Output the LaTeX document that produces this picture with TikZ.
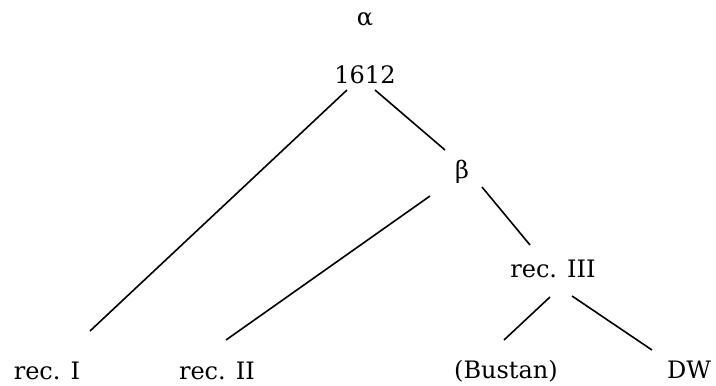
\documentclass[tikz,border=0pt]{standalone}
\usepackage{fontspec}
\setmainfont{DejaVu Serif}
\usetikzlibrary{calc}
\begin{document}
\begin{tikzpicture}[x=1pt,y=-1pt,
  lbl/.style={anchor=base,inner sep=0pt,font=\fontsize{24}{28}\selectfont},
  edge/.style={line width=1.6pt}]
\useasboundingbox (0,0) rectangle (716,386);
\node[lbl] (alpha) at (365,25) {α};
\node[lbl] (n1612) at (365,83) {1612};
\node[lbl] (beta) at (462,178) {β};
\node[lbl] (rec3) at (553,277) {rec. III};
\node[lbl] (rec1) at (47,379) {rec. I};
\node[lbl] (rec2) at (217,379) {rec. II};
\node[lbl] (bustan) at (506,378) {(Bustan)};
\node[lbl] (dw) at (689,378) {DW};
\draw[edge] ($(n1612.base)+(-18,7)$) -- ($(rec1.base)+(43,-48)$);
\draw[edge] ($(n1612.base)+(10,7)$) -- ($(beta.base)+(-17,-28)$);
\draw[edge] ($(beta.base)+(-32,18)$) -- ($(rec2.base)+(9,-39)$);
\draw[edge] ($(beta.base)+(20,9)$) -- ($(rec3.base)+(-23,-32)$);
\draw[edge] ($(rec3.base)+(-3,20)$) -- ($(bustan.base)+(-2,-38)$);
\draw[edge] ($(rec3.base)+(19,19)$) -- ($(dw.base)+(-37,-28)$);
\end{tikzpicture}
\end{document}
